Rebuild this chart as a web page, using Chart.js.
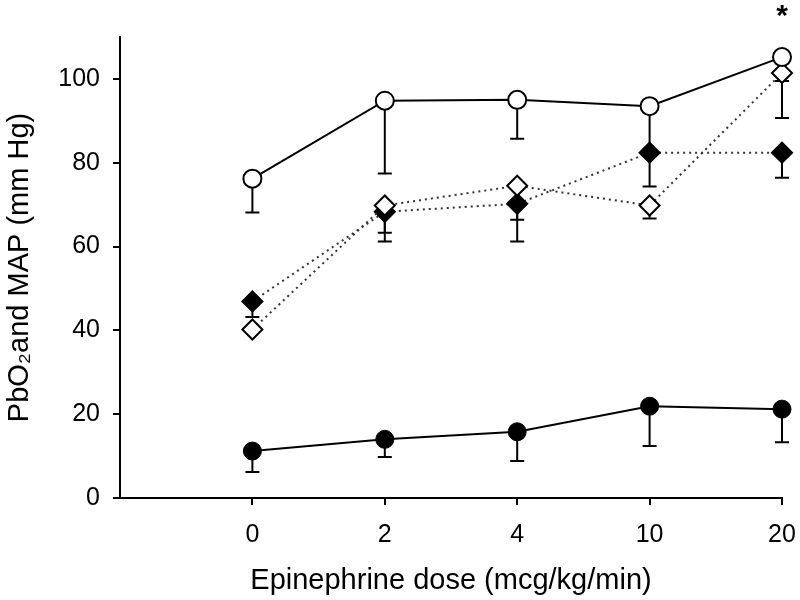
<!DOCTYPE html>
<html>
<head>
<meta charset="utf-8">
<script src="https://cdn.jsdelivr.net/npm/chart.js@4/dist/chart.umd.min.js"></script>
<style>
  html, body { margin: 0; padding: 0; background: #fff; }
  #wrap { width: 800px; height: 600px; }
</style>
</head>
<body>
<div id="wrap"><canvas id="c" width="800" height="600"></canvas></div>
<script>
// ---- data ----
const doseLabels = ['0', '2', '4', '10', '20'];
const yTickValues = [0, 20, 40, 60, 80, 100];
const significance = ['', '', '', '', '*'];

const openCircle = [76.2, 94.8, 95.0, 93.5, 105.2];
const openCircleErr = [8.1, 17.4, 9.3, 11.0, 14.5];

const filledDiamond = [46.9, 68.3, 70.2, 82.4, 82.4];
const filledDiamondErr = [3.7, 7.1, 9.0, 8.1, 6.0];

const openDiamond = [40.2, 69.8, 74.5, 69.8, 101.4];
const openDiamondErr = [0, 6.5, 8.1, 3.1, 1.9];

const filledCircle = [11.2, 14.0, 15.8, 21.9, 21.2];
const filledCircleErr = [5.0, 4.2, 7.0, 9.5, 7.9];

// ---- helpers ----
const toPoints = arr => arr.map((v, i) => ({ x: i, y: v }));
const FONT = "'Liberation Sans', Arial, Helvetica, sans-serif";

const errorBarPlugin = {
  id: 'errorBars',
  beforeDatasetsDraw(chart) {
    const { ctx, scales: { x, y } } = chart;
    ctx.save();
    ctx.strokeStyle = '#000';
    ctx.lineWidth = 2;
    chart.data.datasets.forEach(ds => {
      if (!ds.errLower) return;
      ds.data.forEach((p, i) => {
        const e = ds.errLower[i];
        if (!e) return;
        const px = x.getPixelForValue(p.x);
        const py = y.getPixelForValue(p.y);
        const pl = y.getPixelForValue(p.y - e);
        ctx.beginPath();
        ctx.moveTo(px, py);
        ctx.lineTo(px, pl);
        ctx.moveTo(px - 7, pl);
        ctx.lineTo(px + 7, pl);
        ctx.stroke();
      });
    });
    ctx.restore();
  }
};

const sigPlugin = {
  id: 'sig',
  afterDraw(chart) {
    const { ctx, scales: { x }, chartArea } = chart;
    ctx.save();
    ctx.fillStyle = '#000';
    ctx.font = 'bold 30px ' + FONT;
    ctx.textAlign = 'center';
    ctx.textBaseline = 'middle';
    significance.forEach((s, i) => {
      if (!s) return;
      ctx.fillText(s, x.getPixelForValue(i), chartArea.top - 20);
    });
    ctx.restore();
  }
};

new Chart(document.getElementById('c'), {
  type: 'line',
  data: {
    datasets: [
      {
        label: 'open circle',
        data: toPoints(openCircle),
        errLower: openCircleErr,
        borderColor: '#000', borderWidth: 2, clip: false,
        pointStyle: 'circle', pointRadius: 9, pointHoverRadius: 9,
        pointBackgroundColor: '#fff', pointBorderColor: '#000', pointBorderWidth: 2,
        order: 1
      },
      {
        label: 'open diamond',
        data: toPoints(openDiamond),
        errLower: openDiamondErr,
        borderColor: '#333', borderWidth: 2, borderDash: [2, 4], clip: false,
        pointStyle: 'rectRot', pointRadius: 10, pointHoverRadius: 10,
        pointBackgroundColor: '#fff', pointBorderColor: '#000', pointBorderWidth: 2,
        order: 2
      },
      {
        label: 'filled diamond',
        data: toPoints(filledDiamond),
        errLower: filledDiamondErr,
        borderColor: '#333', borderWidth: 2, borderDash: [2, 4], clip: false,
        pointStyle: 'rectRot', pointRadius: 10, pointHoverRadius: 10,
        pointBackgroundColor: '#000', pointBorderColor: '#000', pointBorderWidth: 2,
        order: 3
      },
      {
        label: 'filled circle',
        data: toPoints(filledCircle),
        errLower: filledCircleErr,
        borderColor: '#000', borderWidth: 2, clip: false,
        pointStyle: 'circle', pointRadius: 9, pointHoverRadius: 9,
        pointBackgroundColor: '#000', pointBorderColor: '#000', pointBorderWidth: 1,
        order: 4
      }
    ]
  },
  options: {
    responsive: false,
    animation: false,
    devicePixelRatio: 1,
    layout: { padding: { top: 37, right: 18, left: 0, bottom: 0 } },
    plugins: { legend: { display: false }, tooltip: { enabled: false } },
    scales: {
      x: {
        type: 'linear',
        min: -1, max: 4,
        afterBuildTicks: s => { s.ticks = doseLabels.map((_, i) => ({ value: i })); },
        afterFit: s => { s.height = 102; s.paddingRight = 0; s.paddingLeft = 0; },
        ticks: {
          callback: v => doseLabels[v] ?? '',
          color: '#000', padding: 15,
          font: { family: FONT, size: 25 },
          maxRotation: 0, autoSkip: false
        },
        grid: { drawOnChartArea: false, drawTicks: true, tickLength: 7, color: '#000', lineWidth: 2 },
        border: { display: true, color: '#000', width: 2 },
        title: {
          display: true, text: 'Epinephrine dose (mcg/kg/min)', color: '#000',
          font: { family: FONT, size: 29 }, padding: { top: 0, bottom: 2 }
        }
      },
      y: {
        type: 'linear',
        min: 0, max: 110,
        afterBuildTicks: s => { s.ticks = yTickValues.map(v => ({ value: v })); },
        afterFit: s => { s.width = 120; s.paddingTop = 0; s.paddingBottom = 0; },
        ticks: {
          color: '#000', padding: 13,
          font: { family: FONT, size: 25 }
        },
        grid: { drawOnChartArea: false, drawTicks: true, tickLength: 7, color: '#000', lineWidth: 2 },
        border: { display: true, color: '#000', width: 2 },
        title: {
          display: true, text: 'PbO\u2082and MAP (mm Hg)', color: '#000',
          font: { family: FONT, size: 29 }, padding: { top: 3, bottom: 0 }
        }
      }
    }
  },
  plugins: [errorBarPlugin, sigPlugin]
});
</script>
</body>
</html>
